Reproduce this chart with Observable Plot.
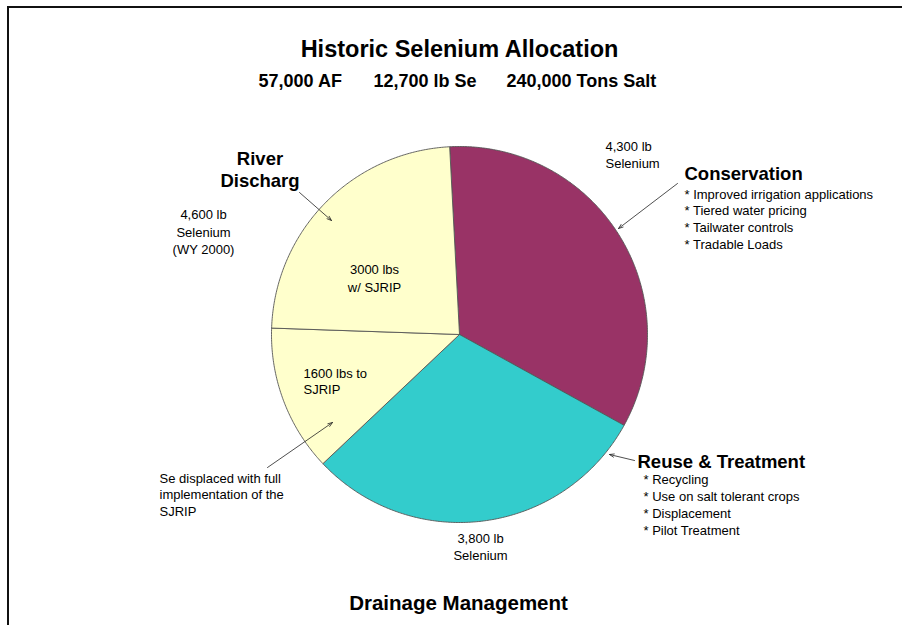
<!DOCTYPE html>
<html>
<head>
<meta charset="utf-8">
<script src="https://cdn.jsdelivr.net/npm/d3@7"></script>
<script src="https://cdn.jsdelivr.net/npm/@observablehq/plot@0.6"></script>
<style>
  html, body { margin: 0; padding: 0; background: #fff; overflow: hidden; }
  #wrap { position: relative; width: 902px; height: 625px; overflow: hidden; }
  #frame { position: absolute; left: 7px; top: 6px; width: 1000px; height: 1000px;
           border-left: 2px solid #111; border-top: 2px solid #111; box-sizing: border-box; }
  #chart { position: absolute; left: 0; top: 0; }
</style>
</head>
<body>
<div id="wrap"><div id="chart"></div><div id="frame"></div></div>
<script>
// ---------------- data ----------------
const title = "Historic Selenium Allocation";
const subtitleParts = ["57,000 AF", "12,700 lb Se", "240,000 Tons Salt"];
const footer = "Drainage Management";

const categories = ["Conservation", "Reuse & Treatment", "River Discharge (to SJRIP)", "River Discharge (w/ SJRIP)"];
const seleniumLb = [4300, 3800, 1600, 3000];
const sliceColors = ["#993366", "#33CCCC", "#FFFFCC", "#FFFFCC"];

const conservationActions = ["Improved irrigation applications", "Tiered water pricing", "Tailwater controls", "Tradable Loads"];
const reuseActions = ["Recycling", "Use on salt tolerant crops", "Displacement", "Pilot Treatment"];
const riverYear = "WY 2000";
const displacedNote = ["Se displaced with full", "implementation of the", "SJRIP"];

// ---------------- layout helpers ----------------
const W = 902, H = 625;
const CX = 459, CY = 334, R = 188;           // pie centre / radius in pixels
const ux = px => (px - CX) / R;               // pixel -> data units (pie radius = 1)
const uy = py => (CY - py) / R;
const fmt = d3.format(",");
const FONT = "'Liberation Sans', Arial, Helvetica, sans-serif";

// ---------------- pie geometry via d3.pie ----------------
const startDeg = -3;
const pie = d3.pie().sort(null).value(d => d.value)
  .startAngle(startDeg * Math.PI / 180)
  .endAngle(startDeg * Math.PI / 180 + 2 * Math.PI);
const arcs = pie(categories.map((c, i) => ({category: c, value: seleniumLb[i], color: sliceColors[i]})));
const slicePolys = arcs.map(a => {
  const n = Math.max(2, Math.ceil((a.endAngle - a.startAngle) / (Math.PI / 360)));
  const pts = [{x: 0, y: 0}];
  for (let k = 0; k <= n; k++) {
    const t = a.startAngle + (a.endAngle - a.startAngle) * k / n;
    pts.push({x: Math.sin(t), y: Math.cos(t)});
  }
  pts.push({x: 0, y: 0});
  return {color: a.data.color, points: pts};
});

// ---------------- text helper ----------------
function label(text, px, py, o = {}) {
  return Plot.text([text], {
    x: () => ux(px), y: () => uy(py), text: d => d,
    fontFamily: FONT, fontSize: o.size || 13, fontWeight: o.weight || "normal",
    textAnchor: o.anchor || "middle", lineAnchor: "middle",
    lineHeight: o.lh || 1.3, fill: "#000"
  });
}

const riverTotal = seleniumLb[2] + seleniumLb[3];

const marks = [
  ...slicePolys.map(s => Plot.line(s.points, {x: "x", y: "y", fill: s.color, stroke: "#555", strokeWidth: 0.9, curve: "linear"})),

  // titles
  label(title, 459, 47, {size: 23.5, weight: "bold"}),
  label(subtitleParts[0], 258, 79, {size: 18, weight: "bold", anchor: "start"}),
  label(subtitleParts[1], 373, 79, {size: 18, weight: "bold", anchor: "start"}),
  label(subtitleParts[2], 506, 79, {size: 18, weight: "bold", anchor: "start"}),
  label(footer, 458, 601, {size: 20.5, weight: "bold"}),

  // conservation
  label(`${fmt(seleniumLb[0])} lb\nSelenium`, 605, 153.5, {size: 13, anchor: "start", lh: 1.3}),
  label("Conservation", 684, 172, {size: 18.5, weight: "bold", anchor: "start"}),
  label(conservationActions.map(d => "* " + d).join("\n"), 684, 218, {size: 13, anchor: "start", lh: 1.29}),

  // reuse & treatment
  label("Reuse & Treatment", 637, 459.5, {size: 18.5, weight: "bold", anchor: "start"}),
  label(reuseActions.map(d => "* " + d).join("\n"), 643, 503.5, {size: 13, anchor: "start", lh: 1.29}),
  label(`${fmt(seleniumLb[1])} lb\nSelenium`, 480, 545.5, {size: 13, lh: 1.3}),

  // river discharge
  label("River\nDischarg", 259.5, 168, {size: 18.5, weight: "bold", lh: 1.2}),
  label(`${fmt(riverTotal)} lb\nSelenium\n(${riverYear})`, 203, 230.5, {size: 13, lh: 1.35}),
  label(`${seleniumLb[3]} lbs\nw/ SJRIP`, 374, 277, {size: 13, lh: 1.35}),
  label(`${seleniumLb[2]} lbs to\nSJRIP`, 303, 380, {size: 13, anchor: "start", lh: 1.25}),
  label(displacedNote.join("\n"), 159, 493.5, {size: 13, anchor: "start", lh: 1.27}),

  // arrows
  Plot.arrow([
    {x1: 677, y1: 183, x2: 618, y2: 228},
    {x1: 634, y1: 460, x2: 609, y2: 454},
    {x1: 299, y1: 192, x2: 331, y2: 220},
    {x1: 267, y1: 467, x2: 332, y2: 422}
  ], {x1: d => ux(d.x1), y1: d => uy(d.y1), x2: d => ux(d.x2), y2: d => uy(d.y2),
      stroke: "#222", strokeWidth: 0.8, headLength: 9, headAngle: 40})
];

const plot = Plot.plot({
  width: W, height: H, margin: 0,
  x: {domain: [ux(0), ux(W)], axis: null},
  y: {domain: [uy(H), uy(0)], axis: null},
  style: {background: "transparent", fontFamily: FONT},
  marks
});
document.getElementById("chart").appendChild(plot);
</script>
</body>
</html>
